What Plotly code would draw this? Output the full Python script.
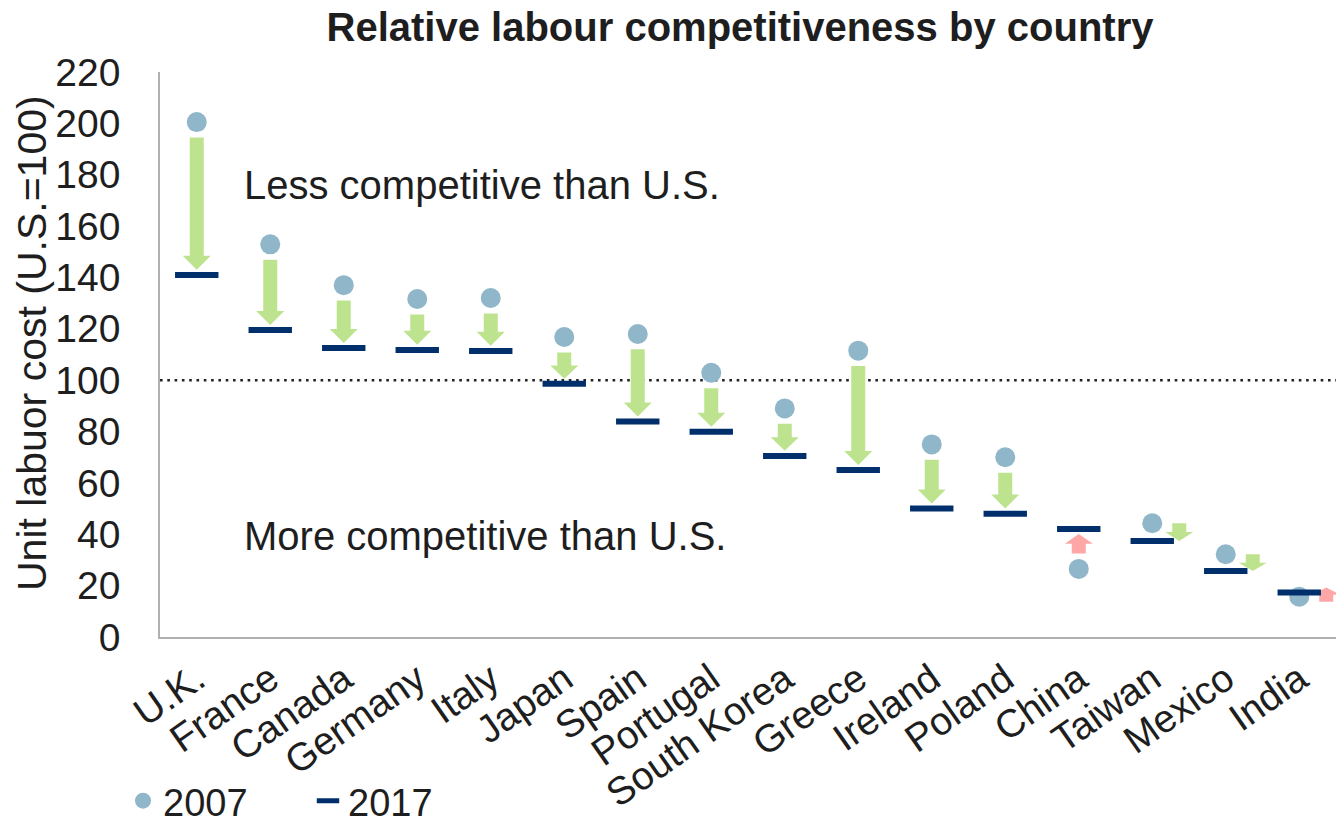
import plotly.graph_objects as go

# Unit labour cost relative to the U.S. (U.S. = 100)
countries = ["U.K.", "France", "Canada", "Germany", "Italy", "Japan", "Spain", "Portugal",
             "South Korea", "Greece", "Ireland", "Poland", "China", "Taiwan", "Mexico", "India"]
cost_2007 = [200.5, 152.9, 137.0, 131.6, 132.0, 116.8, 118.0, 102.9,
             89.0, 111.5, 75.0, 70.0, 26.5, 44.3, 32.2, 15.7]
cost_2017 = [141.0, 119.5, 112.5, 111.8, 111.4, 98.6, 83.9, 79.9,
             70.5, 65.0, 50.0, 48.0, 42.1, 37.4, 25.7, 17.3]
# countries whose change arrow sits beside the markers instead of between them
side_arrow = ["Taiwan", "Mexico", "India"]

FONT = "Arial, Liberation Sans, sans-serif"
TXT = "#1e1e1e"
DOT = "#8fb6c9"
DASH = "#002f6c"
DOWN = "#bde38f"
UP = "#ffa6a6"

W, H = 1336, 825
L, R, T, B = 160, 0, 72, 188
px_x = (W - L - R) / len(countries)   # pixels per category
px_y = (H - T - B) / 220.0            # pixels per unit

fig = go.Figure()

# change arrows, built as filled polygons in data space
for i, (name, a, b) in enumerate(zip(countries, cost_2007, cost_2017)):
    s = 1 if b > a else -1
    if name in side_arrow:
        xc = i + 27 / px_x
        mid = (a + b) / 2
        half = max(abs(b - a) / 2, 2.75)
        y0, y1 = mid - s * half, mid + s * half
    else:
        xc = i
        y0, y1 = a + s * 6, b - s * 2
    length = abs(y1 - y0)
    head = min(14 / px_y, 0.5 * length)
    bw = 7 / px_x
    hw = 14 / px_x
    yh = y1 - s * head
    xs = [xc - bw, xc - bw, xc - hw, xc, xc + hw, xc + bw, xc + bw, xc - bw]
    ys = [y0, yh, yh, y1, yh, yh, y0, y0]
    fig.add_trace(go.Scatter(
        x=xs, y=ys, mode="lines", fill="toself",
        fillcolor=UP if s > 0 else DOWN, line=dict(width=0),
        showlegend=False, hoverinfo="skip"))

x_idx = list(range(len(countries)))

fig.add_trace(go.Scatter(
    x=x_idx, y=cost_2007, mode="markers", name="2007",
    marker=dict(symbol="circle", size=20, color=DOT),
    customdata=countries, hovertemplate="%{customdata}: %{y}<extra>2007</extra>"))

fig.add_trace(go.Scatter(
    x=x_idx, y=cost_2017, mode="markers", name="2017",
    marker=dict(symbol="line-ew", size=31, color=DASH,
                line=dict(width=6, color=DASH)),
    customdata=countries, hovertemplate="%{customdata}: %{y}<extra>2017</extra>"))

# U.S. parity line
fig.add_shape(type="line", xref="paper", yref="y", x0=0, x1=1, y0=100, y1=100,
              line=dict(color="#222222", width=2.6, dash="2.6px,4.7px"), layer="below")

fig.add_annotation(text="Less competitive than U.S.", xref="paper", yref="y",
                   x=(242 - L) / (W - L - R), y=176, xanchor="left", yanchor="middle",
                   showarrow=False, font=dict(family=FONT, size=40, color=TXT))
fig.add_annotation(text="More competitive than U.S.", xref="paper", yref="y",
                   x=(242 - L) / (W - L - R), y=39.5, xanchor="left", yanchor="middle",
                   showarrow=False, font=dict(family=FONT, size=40, color=TXT))
fig.add_annotation(text="Unit labuor cost (U.S.=100)", xref="paper", yref="paper",
                   x=(32 - L) / (W - L - R), y=(H - B - 343) / (H - T - B),
                   xanchor="center", yanchor="middle", textangle=-90,
                   showarrow=False, font=dict(family=FONT, size=41, color=TXT))

fig.update_layout(
    width=W, height=H,
    margin=dict(l=L, r=R, t=T, b=B, pad=0, autoexpand=False),
    paper_bgcolor="white", plot_bgcolor="white",
    font=dict(family=FONT, size=38, color=TXT),
    title=dict(text="<b>Relative labour competitiveness by country</b>",
               x=740 / W, xref="container", xanchor="center",
               y=1 - 27 / H, yref="container", yanchor="middle",
               font=dict(family=FONT, size=40, color=TXT)),
    xaxis=dict(range=[-0.5, len(countries) - 0.5], tickmode="array",
               tickvals=x_idx, ticktext=countries, tickangle=-35,
               showgrid=False, zeroline=False, showline=True, automargin=False,
               linecolor="#b0b0b0", linewidth=1.5, ticks="",
               ticklabelstandoff=2, tickfont=dict(size=39)),
    yaxis=dict(range=[0, 220], dtick=20, showgrid=False, zeroline=False,
               showline=True, automargin=False, linecolor="#b0b0b0", linewidth=1.5,
               ticks="", ticklabelstandoff=30, tickfont=dict(size=39)),
    legend=dict(orientation="h", x=(123 - L) / (W - L - R), xanchor="left",
                y=(H - B - 801) / (H - T - B), yanchor="middle",
                font=dict(size=38), entrywidth=140, entrywidthmode="pixels",
                bgcolor="rgba(0,0,0,0)", borderwidth=0),
    showlegend=True,
)

fig.write_html("out.html")
